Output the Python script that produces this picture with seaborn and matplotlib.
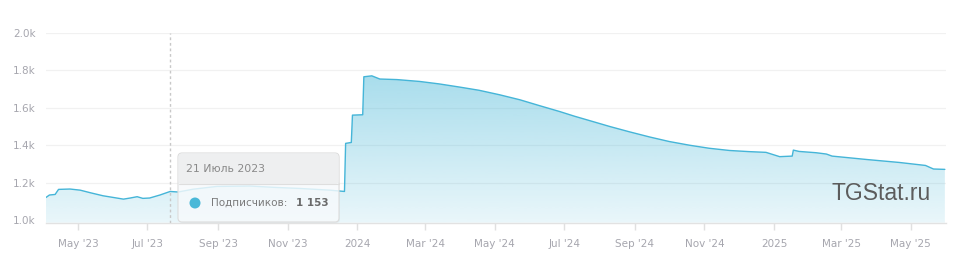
import numpy as np
import pandas as pd
import matplotlib
matplotlib.use("Agg")
import matplotlib.pyplot as plt
import matplotlib.dates as mdates
from matplotlib.patches import FancyBboxPatch, Circle
from matplotlib.transforms import IdentityTransform
import seaborn as sns

# ---- data ----
dates = [
    "2023-04-03", "2023-04-06", "2023-04-11", "2023-04-14", "2023-04-24",
    "2023-05-03", "2023-05-12", "2023-05-23", "2023-06-01", "2023-06-10",
    "2023-06-16", "2023-06-22", "2023-06-27", "2023-07-03", "2023-07-12",
    "2023-07-21", "2023-07-28", "2023-08-10", "2023-08-31", "2023-09-29",
    "2023-10-20", "2023-11-12", "2023-12-08", "2023-12-21", "2023-12-22",
    "2023-12-27", "2023-12-28", "2024-01-06", "2024-01-07", "2024-01-14",
    "2024-01-21", "2024-02-05", "2024-02-25", "2024-03-13", "2024-03-31",
    "2024-04-17", "2024-05-05", "2024-05-23", "2024-06-09", "2024-06-27",
    "2024-07-10", "2024-07-23", "2024-08-10", "2024-08-27", "2024-09-14",
    "2024-10-01", "2024-10-19", "2024-11-05", "2024-11-23", "2024-12-10",
    "2024-12-25", "2025-01-06", "2025-01-17", "2025-01-18", "2025-01-23",
    "2025-02-07", "2025-02-16", "2025-02-21", "2025-03-23", "2025-04-21",
    "2025-05-14", "2025-05-21", "2025-05-31",
]
subscribers = [
    1121, 1134, 1137, 1164, 1166,
    1160, 1146, 1130, 1121, 1112,
    1118, 1125, 1116, 1118, 1134,
    1153, 1150, 1165, 1180, 1182,
    1175, 1169, 1160, 1153, 1410,
    1415, 1561, 1563, 1766, 1771,
    1754, 1751, 1741, 1728, 1711,
    1694, 1670, 1643, 1612, 1580,
    1555, 1532, 1500, 1472, 1444,
    1420, 1400, 1384, 1372, 1366,
    1362, 1339, 1342, 1374, 1367,
    1360, 1353, 1342, 1324, 1308,
    1292, 1273, 1271,
]
xtick_dates = ["2023-05-01", "2023-07-01", "2023-09-01", "2023-11-01", "2024-01-01",
               "2024-03-01", "2024-05-01", "2024-07-01", "2024-09-01", "2024-11-01",
               "2025-01-01", "2025-03-01", "2025-05-01"]
xtick_labels = ["May '23", "Jul '23", "Sep '23", "Nov '23", "2024",
                "Mar '24", "May '24", "Jul '24", "Sep '24", "Nov '24",
                "2025", "Mar '25", "May '25"]
ytick_values = [1000, 1200, 1400, 1600, 1800, 2000]
ytick_labels = ["1.0k", "1.2k", "1.4k", "1.6k", "1.8k", "2.0k"]
tooltip_date = "2023-07-21"
tooltip_title = "21 Июль 2023"
tooltip_label = "Подписчиков:"
tooltip_value = "1 153"
watermark = "TGStat.ru"

df = pd.DataFrame({"date": pd.to_datetime(dates), "value": subscribers})

# ---- figure ----
sns.set_theme(style="white")
plt.rcParams["font.family"] = ["DejaVu Sans"]
W, H = 962, 260
fig = plt.figure(figsize=(W / 100, H / 100), dpi=100)
fig.patch.set_facecolor("white")
ax_bottom_px = 222.7
ax_top_px = 33
ax = fig.add_axes([46 / W, (H - ax_bottom_px) / H, 900 / W, (ax_bottom_px - ax_top_px) / H])
ax.set_facecolor("white")

line_color = "#45b5d8"
ymin, ymax = 986, 2000
xmin, xmax = pd.Timestamp("2023-04-03"), pd.Timestamp("2025-06-01")

# grid
for v in ytick_values[1:]:
    ax.axhline(v, color="#f1f1f1", lw=0.9, zorder=0)

# gradient fill
poly = ax.fill_between(df["date"], df["value"], ymin, color="none", lw=0)
grad = np.linspace(0, 1, 256).reshape(-1, 1)
alpha_top, alpha_bot = 0.58, 0.12
alphas = alpha_bot + (alpha_top - alpha_bot) * grad
rgba = np.zeros((256, 1, 4))
base = matplotlib.colors.to_rgb("#4ab8d8")
rgba[..., 0] = base[0]
rgba[..., 1] = base[1]
rgba[..., 2] = base[2]
rgba[..., 3] = alphas
im = ax.imshow(rgba, aspect="auto", origin="lower",
               extent=[mdates.date2num(xmin), mdates.date2num(xmax), ymin, ymax],
               zorder=1, interpolation="bilinear")
im.set_clip_path(poly.get_paths()[0], transform=ax.transData)

sns.lineplot(data=df, x="date", y="value", ax=ax, color=line_color, lw=1.0, zorder=3)

# dotted crosshair
ax.axvline(pd.Timestamp(tooltip_date), color="#c8c8c8", lw=1, ls=(0, (2, 2)), zorder=4)

ax.set_xlim(xmin, xmax)
ax.set_ylim(ymin, ymax)
ax.set_xlabel("")
ax.set_ylabel("")

ax.set_xticks(pd.to_datetime(xtick_dates))
ax.set_xticklabels(xtick_labels)
ax.set_yticks(ytick_values)
ax.set_yticklabels(ytick_labels)
ax.tick_params(axis="x", length=5, width=1, color="#e0e0e0", pad=6.5,
               labelsize=7.5, labelcolor="#a6a6ae", direction="out", bottom=True)
ax.tick_params(axis="y", length=0, pad=7.5, labelsize=7.5, labelcolor="#a6a6ae")
for s in ["top", "right", "left"]:
    ax.spines[s].set_visible(False)
ax.spines["bottom"].set_color("#e2e2e2")
ax.spines["bottom"].set_linewidth(1)

# watermark
fig.text(832 / W, (H - 193) / H, watermark, fontsize=16.5, color="#5c5c5c",
         family=["Liberation Sans", "DejaVu Sans"], ha="left", va="center")

# tooltip (pixel coordinates, top-left origin converted)
tr = IdentityTransform()
def py(y):
    return H - y

bx0, bx1, by0, by1 = 178, 339, 153, 222
shadow = FancyBboxPatch((bx0 + 1, py(by1) - 1), bx1 - bx0, by1 - by0,
                        boxstyle="round,pad=0,rounding_size=4", transform=tr,
                        fc=(0, 0, 0, 0.035), ec="none", zorder=10)
fig.patches.append(shadow)
box = FancyBboxPatch((bx0, py(by1)), bx1 - bx0, by1 - by0,
                     boxstyle="round,pad=0,rounding_size=4", transform=tr,
                     fc=(0.975, 0.988, 0.995, 0.82), ec="#dcdcdc", lw=0.8, zorder=11)
fig.patches.append(box)
header = FancyBboxPatch((bx0 + 0.5, py(184)), bx1 - bx0 - 1, 184 - by0 - 0.5,
                        boxstyle="round,pad=0,rounding_size=3.5", transform=tr,
                        fc="#eeeff0", ec="none", zorder=12)
fig.patches.append(header)
fig.lines.append(plt.Line2D([bx0 + 0.5, bx1 - 0.5], [py(184), py(184)],
                            transform=tr, color="#dedede", lw=0.8, zorder=13))
fig.text(186 / W, py(169) / H, tooltip_title, fontsize=7.8, color="#8a8a8a",
         ha="left", va="center", zorder=14)
dot = Circle((195, py(203)), 5.5, transform=tr, fc="#4ab8d8", ec="none", zorder=14)
fig.patches.append(dot)
fig.text(211 / W, py(203) / H, tooltip_label, fontsize=7.5, color="#7a7a7a",
         ha="left", va="center", zorder=14)
fig.text(296 / W, py(203) / H, tooltip_value, fontsize=7.5, color="#6a6a6a",
         fontweight="bold", ha="left", va="center", zorder=14)

fig.savefig("out.png", dpi=100, facecolor="white")
